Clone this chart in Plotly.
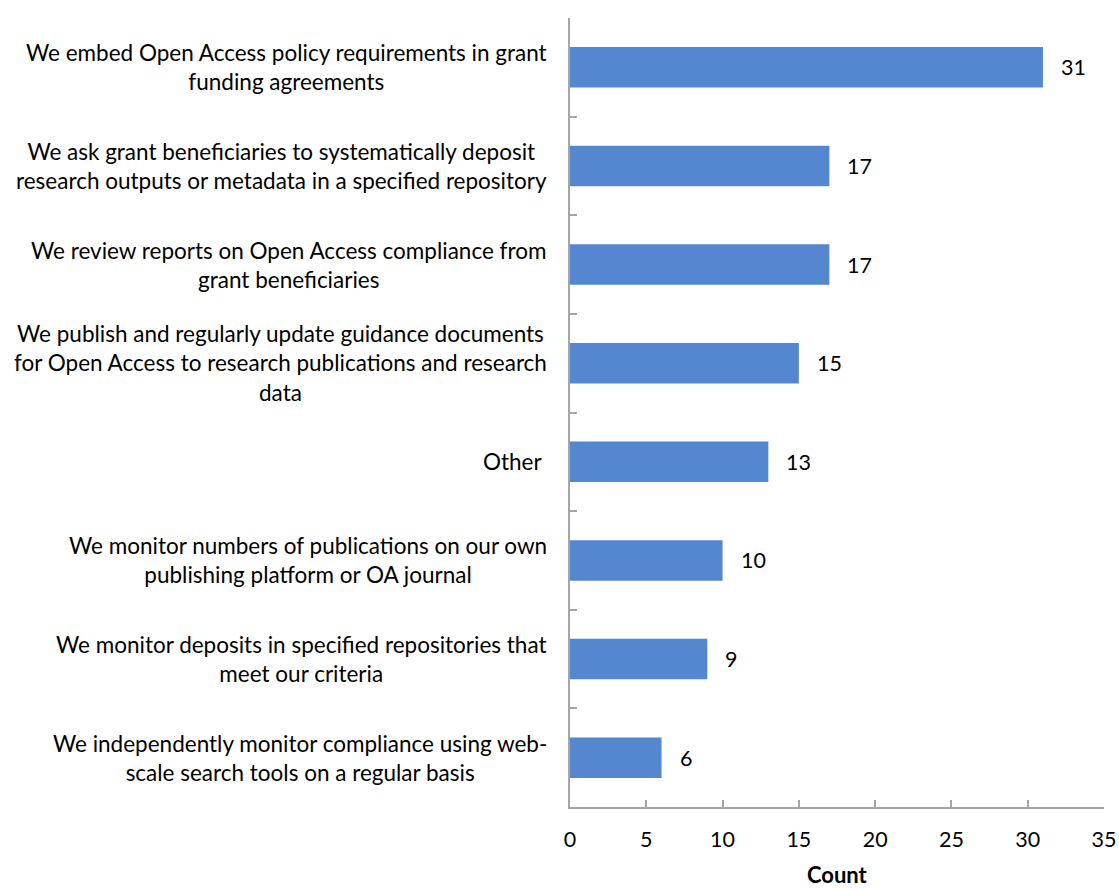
import plotly.graph_objects as go

# Survey responses: how Open Access compliance is supported/monitored
categories = [
    "We independently monitor compliance using web-<br>scale search tools on a regular basis",
    "We monitor deposits in specified repositories that<br>meet our criteria",
    "We monitor numbers of publications on our own<br>publishing platform or OA journal",
    "Other ",
    "We publish and regularly update guidance documents<br>for Open Access to research publications and research<br>data",
    "We review reports on Open Access compliance from<br>grant beneficiaries",
    "We ask grant beneficiaries to systematically deposit<br>research outputs or metadata in a specified repository",
    "We embed Open Access policy requirements in grant<br>funding agreements",
]
counts = [6, 9, 10, 13, 15, 17, 17, 31]
x_ticks = [0, 5, 10, 15, 20, 25, 30, 35]
x_title = "Count"

FONT = "Lato"
BAR = "#5587D0"
AXIS = "#A6A6A6"

positions = list(range(len(categories)))

fig = go.Figure(
    go.Bar(
        x=counts,
        y=positions,
        orientation="h",
        width=0.41,
        marker=dict(color=BAR, line=dict(width=0)),
        hoverinfo="skip",
    )
)

annotations = []
# category labels: right edge just left of the axis, lines centred
for pos, label in zip(positions, categories):
    annotations.append(dict(
        x=0, y=pos, xref="x", yref="y", text=label, showarrow=False,
        xanchor="right", yanchor="middle", align="center", xshift=-21,
        font=dict(family=FONT, size=22.5, color="#000000"),
    ))
# value labels to the right of each bar
for pos, val in zip(positions, counts):
    annotations.append(dict(
        x=val, y=pos, xref="x", yref="y", text=str(val), showarrow=False,
        xanchor="left", yanchor="middle", xshift=16,
        font=dict(family=FONT, size=21.5, color="#000000"),
    ))
# x-axis title below the tick labels
annotations.append(dict(
    x=0.5, y=0, xref="paper", yref="paper", text=f"<b>{x_title}</b>",
    showarrow=False, xanchor="center", yanchor="middle", yshift=-67,
    font=dict(family=FONT, size=22, color="#000000"),
))

fig.update_layout(
    width=1119, height=890,
    margin=dict(l=570, r=15, t=18, b=83),
    paper_bgcolor="white", plot_bgcolor="white",
    showlegend=False,
    annotations=annotations,
    xaxis=dict(
        range=[0, 35], tickvals=x_ticks, ticktext=[str(v) for v in x_ticks],
        automargin=False,
        showgrid=False, zeroline=False,
        showline=True, linecolor=AXIS, linewidth=2,
        ticks="inside", ticklen=7, tickwidth=1.5, tickcolor=AXIS,
        ticklabelstandoff=12,
        tickfont=dict(family=FONT, size=21.5, color="#000000"),
    ),
    yaxis=dict(
        range=[-0.5, 7.5], tickmode="linear", tick0=-0.5, dtick=1,
        automargin=False,
        showticklabels=False, showgrid=False, zeroline=False,
        showline=True, linecolor=AXIS, linewidth=2,
        ticks="inside", ticklen=7, tickwidth=1.5, tickcolor=AXIS,
    ),
)

fig.write_html("out.html")
